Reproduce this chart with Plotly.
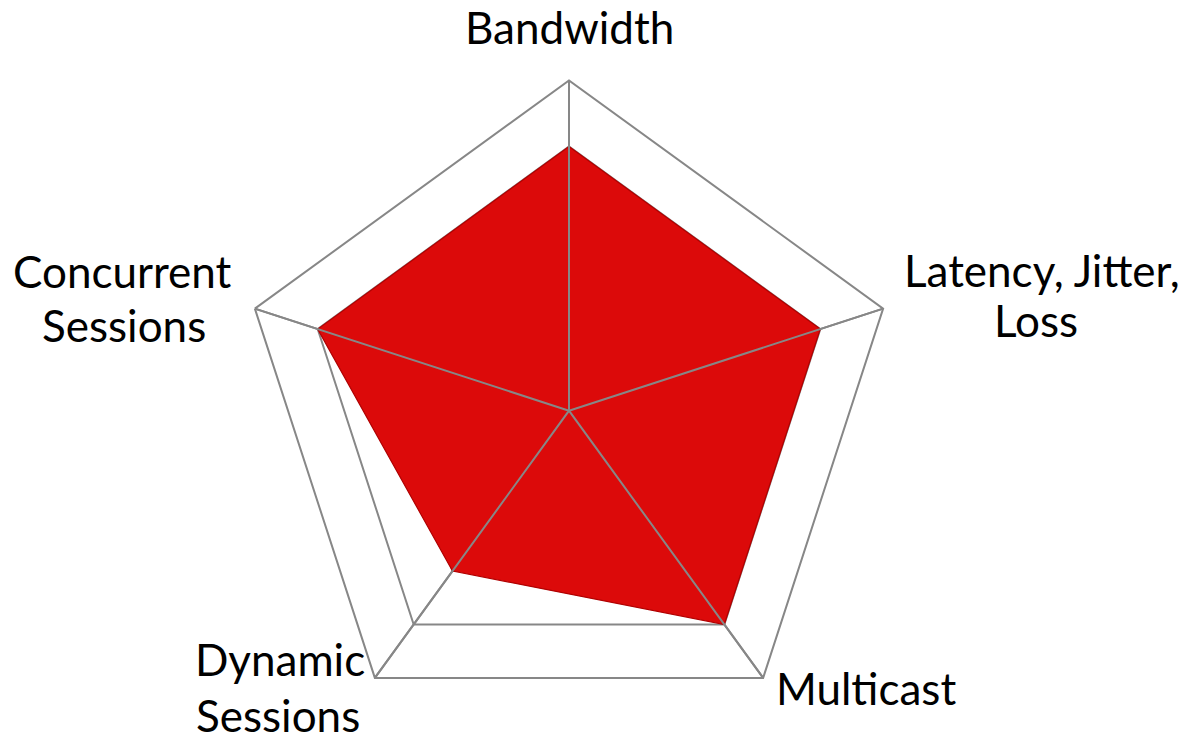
import plotly.graph_objects as go

# ---- data ----
categories = ["Bandwidth", "Latency, Jitter, Loss", "Multicast", "Dynamic Sessions", "Concurrent Sessions"]
scores = [4, 4, 4, 3, 4]
radial_ticks = [1, 2, 3, 4, 5]
label_lines = [
    ["Bandwidth"],
    ["Latency, Jitter,", "Loss"],
    ["Multicast"],
    ["Dynamic", "Sessions"],
    ["Concurrent", "Sessions"],
]

W, H = 1191, 741
CX, CY = 569, 410.7          # chart centre (px, from top)
R = H - CY                    # largest radius that fits

rmax = radial_ticks[-1]
GRID = "#878787"
FONT = "Lato"
LW = 2

fig = go.Figure()

# filled data polygon
fig.add_trace(go.Scatterpolar(
    r=scores + [scores[0]],
    theta=categories + [categories[0]],
    mode="lines",
    fill="toself",
    fillcolor="#DC0A0A",
    line=dict(color="#B00000", width=1.2),
    hoverinfo="skip",
    showlegend=False,
))

# spokes drawn over the fill
spoke_r, spoke_t = [], []
for c in categories:
    spoke_r += [rmax, 0]
    spoke_t += [c, c]
fig.add_trace(go.Scatterpolar(
    r=spoke_r, theta=spoke_t, mode="lines",
    line=dict(color=GRID, width=LW),
    hoverinfo="skip", showlegend=False,
))

fig.update_layout(
    width=W, height=H,
    margin=dict(l=0, r=0, t=0, b=0),
    paper_bgcolor="white",
    plot_bgcolor="white",
    showlegend=False,
    polar=dict(
        domain=dict(x=[(CX - R) / W, (CX + R) / W], y=[0, 2 * R / H]),
        gridshape="linear",
        bgcolor="white",
        radialaxis=dict(
            range=[0, rmax], tickvals=radial_ticks, showticklabels=False,
            ticks="", showline=False, gridcolor=GRID, gridwidth=LW,
        ),
        angularaxis=dict(
            rotation=90, direction="clockwise",
            showticklabels=False, ticks="",
            showline=True, linecolor=GRID, linewidth=LW,
            gridcolor=GRID, gridwidth=LW,
        ),
    ),
)

# category labels (centre x, baseline y in px)
label_pos = [
    [(569, 44)],
    [(1042, 287), (1036, 337)],
    [(866, 705)],
    [(280, 676), (278, 732)],
    [(122.5, 288), (124, 342)],
]
FS = 44
for lines, poss in zip(label_lines, label_pos):
    for txt, (x, base) in zip(lines, poss):
        ymid = base - 0.987 * FS + 0.6 * FS
        fig.add_annotation(
            x=x / W, y=1 - ymid / H, xref="paper", yref="paper",
            xanchor="center", yanchor="middle", showarrow=False,
            text=txt, font=dict(family=FONT, size=FS, color="black"),
        )

fig.write_html("out.html")
